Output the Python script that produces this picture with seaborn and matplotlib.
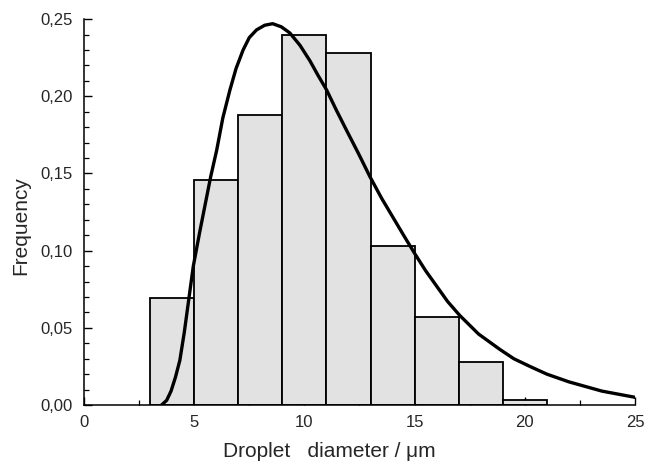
import matplotlib
matplotlib.use('Agg')
import matplotlib.pyplot as plt
from matplotlib.ticker import MultipleLocator, FuncFormatter
import numpy as np
import pandas as pd
import seaborn as sns

# histogram bins (droplet diameter, um) and frequencies
bin_edges = [3, 5, 7, 9, 11, 13, 15, 17, 19, 21]
bin_freq = [0.069, 0.146, 0.188, 0.240, 0.228, 0.103, 0.057, 0.028, 0.003]

# fitted distribution curve
curve_x = [3.52, 3.75, 3.95, 4.15, 4.35, 4.55, 4.76, 4.96, 5.25, 5.5, 5.75, 6.02,
           6.3, 6.62, 6.9, 7.22, 7.5, 7.83, 8.2, 8.56, 8.95, 9.34, 9.8, 10.25,
           10.6, 11.01, 11.45, 11.91, 12.45, 12.97, 13.5, 14.0, 14.5, 15.01, 15.5,
           16.0, 16.5, 17.05, 17.9, 18.87, 19.5, 20.23, 21.0, 22.0, 23.5, 25.0]
curve_y = [0.0, 0.003, 0.009, 0.018, 0.029, 0.047, 0.069, 0.090, 0.112, 0.130, 0.148, 0.165,
           0.186, 0.204, 0.218, 0.230, 0.238, 0.243, 0.246, 0.247, 0.245, 0.241, 0.233, 0.223,
           0.214, 0.204, 0.191, 0.178, 0.163, 0.148, 0.134, 0.122, 0.110, 0.098, 0.087,
           0.077, 0.067, 0.058, 0.046, 0.036, 0.030, 0.025, 0.020, 0.015, 0.009, 0.005]

x_ticks = [0, 5, 10, 15, 20, 25]
y_ticks = [0.00, 0.05, 0.10, 0.15, 0.20, 0.25]

sns.set_style('ticks')
plt.rcParams['font.family'] = ['Liberation Sans', 'DejaVu Sans']

centers = [(a + b) / 2 for a, b in zip(bin_edges[:-1], bin_edges[1:])]
hist_df = pd.DataFrame({'d': centers, 'f': bin_freq})
curve_df = pd.DataFrame({'d': curve_x, 'f': curve_y})

fig = plt.figure(figsize=(6.46, 4.65), dpi=100)
ax = fig.add_axes([0.130, 0.129, 0.853, 0.830])

sns.histplot(data=hist_df, x='d', weights='f', bins=bin_edges, stat='count',
             color='#e2e2e2', edgecolor='black', linewidth=1.3, alpha=1, ax=ax)
sns.lineplot(data=curve_df, x='d', y='f', color='black', linewidth=2.4, ax=ax)

ax.set_xlim(0, 25)
ax.set_ylim(0, 0.25)
ax.set_xticks(x_ticks)
ax.set_yticks(y_ticks)
ax.xaxis.set_minor_locator(MultipleLocator(2.5))
ax.yaxis.set_minor_locator(MultipleLocator(0.01))
ax.yaxis.set_major_formatter(FuncFormatter(lambda v, p: f'{v:.2f}'.replace('.', ',')))
ax.tick_params(axis='both', which='major', direction='in', length=6, width=1.0,
               labelsize=12, color='black')
ax.tick_params(axis='both', which='minor', direction='in', length=3.5, width=0.9, color='black')
ax.tick_params(axis='y', which='major', pad=8)
ax.tick_params(axis='x', which='major', pad=7)

for side in ['top', 'right']:
    ax.spines[side].set_visible(False)
for side in ['left', 'bottom']:
    ax.spines[side].set_linewidth(1.1)
    ax.spines[side].set_color('black')

ax.set_xlabel('Droplet   diameter / \u03bcm', fontsize=15)
ax.set_ylabel('Frequency', fontsize=15)
ax.xaxis.set_label_coords(0.446, -0.095)
ax.yaxis.set_label_coords(-0.097, 0.466)

fig.savefig('out.png', dpi=100)
